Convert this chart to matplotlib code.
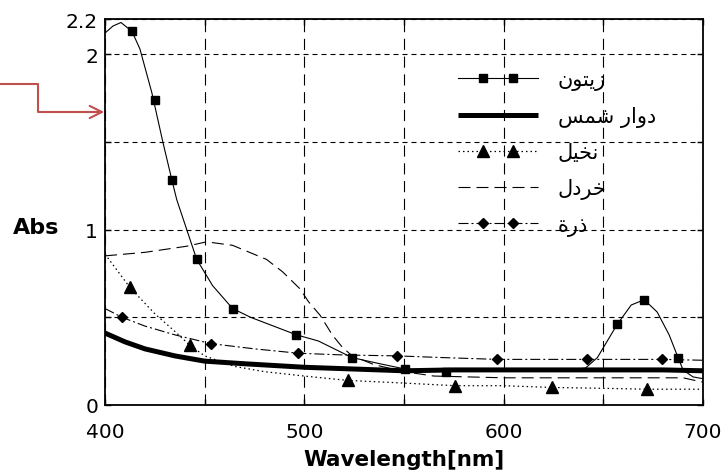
import matplotlib
matplotlib.use('Agg')
import matplotlib.pyplot as plt
from matplotlib.lines import Line2D
from matplotlib.legend_handler import HandlerLine2D, HandlerTuple

plt.rcParams['font.family'] = ['DejaVu Sans']

# --- data ---
labels = ['زيتون', 'دوار شمس', 'نخيل', 'خردل', 'ذرة']

olive_x = [400, 404, 408, 413.5, 417.5, 423.5, 429, 433.6, 436, 441, 446, 454, 464, 473,
           496, 507, 524, 538, 550.5, 571, 600, 630, 641, 647, 657, 664, 670.5, 677, 683,
           687.5, 690, 695, 700]
olive_y = [2.12, 2.16, 2.18, 2.13, 2.03, 1.78, 1.50, 1.28, 1.17, 1.0, 0.83, 0.68, 0.55, 0.50,
           0.40, 0.365, 0.27, 0.235, 0.205, 0.19, 0.2, 0.2, 0.21, 0.27, 0.46, 0.57, 0.60, 0.53, 0.40,
           0.27, 0.20, 0.16, 0.15]
olive_mx = [413.5, 425, 433.6, 446, 464, 496, 524, 550.5, 571, 657, 670.5, 687.5]
olive_my = [2.13, 1.74, 1.28, 0.83, 0.55, 0.40, 0.27, 0.205, 0.19, 0.46, 0.60, 0.27]

sun_x = [400, 410, 420, 435, 450, 470, 500, 525, 550, 575, 600, 650, 680, 700]
sun_y = [0.41, 0.36, 0.32, 0.28, 0.25, 0.235, 0.215, 0.205, 0.195, 0.2, 0.2, 0.2, 0.2, 0.195]

palm_x = [400, 412.5, 425, 435, 442.6, 450, 465, 480, 500, 522, 550, 575.6, 600, 624, 650, 672, 700]
palm_y = [0.86, 0.67, 0.52, 0.42, 0.34, 0.28, 0.22, 0.19, 0.165, 0.14, 0.125, 0.11, 0.11, 0.10,
          0.095, 0.09, 0.09]
palm_mx = [412.5, 442.6, 522, 575.6, 624, 672]
palm_my = [0.67, 0.34, 0.14, 0.11, 0.10, 0.09]

must_x = [400, 420, 441, 451, 464, 481, 489, 498, 502, 508, 514, 519, 524, 535, 550, 565, 600,
          650, 690, 700]
must_y = [0.85, 0.87, 0.905, 0.93, 0.91, 0.83, 0.76, 0.66, 0.59, 0.51, 0.40, 0.33, 0.28, 0.23,
          0.19, 0.165, 0.155, 0.155, 0.155, 0.13]

corn_x = [400, 408.5, 420, 435, 453, 475, 497, 520, 546.5, 570, 596.7, 620, 642, 660, 679.5, 700]
corn_y = [0.55, 0.50, 0.45, 0.40, 0.35, 0.32, 0.295, 0.285, 0.28, 0.27, 0.26, 0.26, 0.26, 0.26,
          0.26, 0.255]
corn_mx = [408.5, 453, 497, 546.5, 596.7, 642, 679.5]
corn_my = [0.50, 0.35, 0.295, 0.28, 0.26, 0.26, 0.26]

x_ticks = [400, 450, 500, 550, 600, 650, 700]
x_ticklabels = ['400', '', '500', '', '600', '', '700']
y_ticks = [0, 0.5, 1, 1.5, 2, 2.2]
y_ticklabels = ['0', '', '1', '', '2', '2.2']

# arabic presentation forms: isolated, final, initial, medial
AR_FORMS = {
    'ا': ('\uFE8D', '\uFE8E', None, None),
    'ة': ('\uFE93', '\uFE94', None, None),
    'ت': ('\uFE95', '\uFE96', '\uFE97', '\uFE98'),
    'خ': ('\uFEA5', '\uFEA6', '\uFEA7', '\uFEA8'),
    'د': ('\uFEA9', '\uFEAA', None, None),
    'ذ': ('\uFEAB', '\uFEAC', None, None),
    'ر': ('\uFEAD', '\uFEAE', None, None),
    'ز': ('\uFEAF', '\uFEB0', None, None),
    'س': ('\uFEB1', '\uFEB2', '\uFEB3', '\uFEB4'),
    'ش': ('\uFEB5', '\uFEB6', '\uFEB7', '\uFEB8'),
    'ل': ('\uFEDD', '\uFEDE', '\uFEDF', '\uFEE0'),
    'م': ('\uFEE1', '\uFEE2', '\uFEE3', '\uFEE4'),
    'ن': ('\uFEE5', '\uFEE6', '\uFEE7', '\uFEE8'),
    'و': ('\uFEED', '\uFEEE', None, None),
    'ي': ('\uFEF1', '\uFEF2', '\uFEF3', '\uFEF4'),
}


def shape(word):
    # join letters and put them in visual (right to left) order
    out = []
    for i, ch in enumerate(word):
        if ch not in AR_FORMS:
            out.append(ch)
            continue
        prev = word[i - 1] if i > 0 else ''
        nxt = word[i + 1] if i + 1 < len(word) else ''
        join_prev = prev in AR_FORMS and AR_FORMS[prev][2] is not None
        join_next = nxt in AR_FORMS and AR_FORMS[ch][2] is not None
        iso, fin, ini, med = AR_FORMS[ch]
        if join_prev and join_next:
            out.append(med)
        elif join_prev:
            out.append(fin)
        elif join_next:
            out.append(ini)
        else:
            out.append(iso)
    return ''.join(reversed(out))


W, H = 723, 477
fig = plt.figure(figsize=(W / 100, H / 100), dpi=100)
ax = fig.add_axes([105 / W, 1 - 406 / H, 598 / W, 386 / H])

styles = [
    dict(color='black', lw=0.8),
    dict(color='black', lw=3.6, solid_capstyle='butt'),
    dict(color='black', lw=0.9, ls=(0, (1.2, 2.4))),
    dict(color='black', lw=0.8, ls=(0, (10.8, 5.4))),
    dict(color='black', lw=0.8, ls=(0, (9, 2.7, 1.8, 2.7))),
]
mstyles = [
    dict(marker='s', ms=5.5),
    None,
    dict(marker='^', ms=8),
    None,
    dict(marker='D', ms=5),
]

ax.plot(olive_x, olive_y, **styles[0])
ax.plot(olive_mx, olive_my, ls='none', color='black', **mstyles[0])
ax.plot(sun_x, sun_y, **styles[1])
ax.plot(palm_x, palm_y, **styles[2])
ax.plot(palm_mx, palm_my, ls='none', color='black', **mstyles[2])
ax.plot(must_x, must_y, **styles[3])
ax.plot(corn_x, corn_y, **styles[4])
ax.plot(corn_mx, corn_my, ls='none', color='black', **mstyles[4])

ax.set_xlim(400, 700)
ax.set_ylim(0, 2.2)
ax.set_xticks(x_ticks)
ax.set_xticklabels(x_ticklabels)
ax.set_yticks(y_ticks)
ax.set_yticklabels(y_ticklabels)
ax.tick_params(direction='in', length=4, width=1, top=True, right=True, labelsize=14.5,
               colors='black')
ax.tick_params(axis='x', pad=12)
ax.tick_params(axis='y', pad=5)
ax.xaxis.grid(True, color='black', lw=0.8, ls=(0, (10, 6)))
ax.yaxis.grid(True, color='black', lw=0.8, ls=(0, (4.5, 3.6)))
for s in ax.spines.values():
    s.set_linewidth(1.3)

ax.set_xlabel('Wavelength[nm]', fontsize=15.5, fontweight='bold', va='center')
ax.xaxis.set_label_coords(0.5, -0.14)
ax.set_ylabel('Abs', fontsize=16, fontweight='bold', rotation=0, va='center', ha='center')
ax.yaxis.set_label_coords(-0.116, 0.461)

# legend: full-length line with two markers set inside it
handles = []
hmap = {}
for st, ms in zip(styles, mstyles):
    ln = Line2D([], [], **st)
    hmap[ln] = HandlerLine2D(marker_pad=0)
    if ms is None:
        handles.append(ln)
    else:
        mk = Line2D([], [], ls='none', color='black', **ms)
        hmap[mk] = HandlerLine2D(marker_pad=1.2)
        handles.append((ln, mk))
hmap[tuple] = HandlerTuple(ndivide=1, pad=0)
ax.legend(handles, [shape(t) for t in labels], loc='upper left', bbox_to_anchor=(0.59, 0.87),
          frameon=False, fontsize=15, numpoints=2, handlelength=3.85, handletextpad=0.95,
          labelspacing=0.75, borderpad=0, borderaxespad=0, handler_map=hmap)

# red arrow on the left
red = '#c0504d'
fig.add_artist(Line2D([0, 38 / W, 38 / W, 100 / W],
                      [1 - 85 / H, 1 - 85 / H, 1 - 113 / H, 1 - 113 / H],
                      color=red, lw=1.5, transform=fig.transFigure))
ax.annotate('', xy=(107 / W, 1 - 113 / H), xytext=(80 / W, 1 - 113 / H),
            xycoords='figure fraction', textcoords='figure fraction',
            arrowprops=dict(arrowstyle='->', color=red, lw=1.5, mutation_scale=22))

fig.savefig('out.png', dpi=100)
